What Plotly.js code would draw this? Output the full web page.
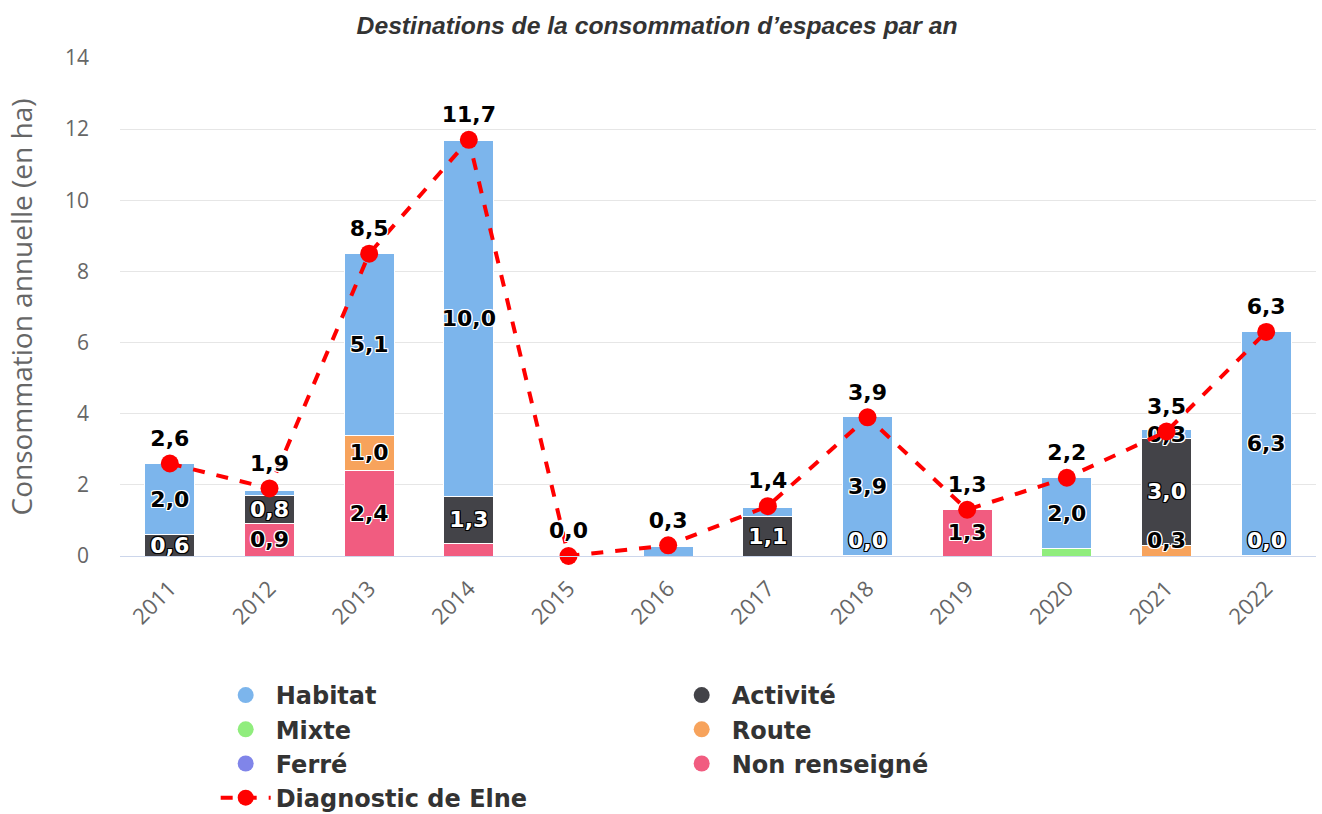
<!DOCTYPE html>
<html><head><meta charset="utf-8">
<script src="https://cdn.plot.ly/plotly-3.0.1.min.js"></script>
<style>body{margin:0;background:#fff}#chart{width:1322px;height:814px}</style>
</head><body><div id="chart"></div>
<script>
const years = ['2011','2012','2013','2014','2015','2016','2017','2018','2019','2020','2021','2022'];
const habitat      = [2.0, 0.15, 5.1, 10.0, 0, 0.27, 0.25, 3.9, 0, 2.0, 0.25, 6.3];
const activite     = [0.6, 0.8, 0, 1.33, 0, 0, 1.1, 0.01, 0, 0, 3.0, 0.01];
const mixte        = [0, 0, 0, 0, 0, 0, 0, 0, 0, 0.2, 0, 0];
const route        = [0, 0, 1.0, 0, 0, 0, 0, 0, 0, 0, 0.3, 0];
const ferre        = [0, 0, 0, 0, 0, 0, 0, 0, 0, 0, 0, 0];
const nonRenseigne = [0, 0.9, 2.4, 0.35, 0, 0, 0, 0, 1.3, 0, 0, 0];
const diagnostic   = [2.6, 1.9, 8.5, 11.7, 0.0, 0.3, 1.4, 3.9, 1.3, 2.2, 3.5, 6.3];
const hiddenLabels = {Habitat: ['2012','2016','2017'], Mixte: ['2020'], 'Non renseigné': ['2014']};

const fmt = v => v.toFixed(1).replace('.', ',');
const outline = c => `-1px -1px 0 ${c}, 1px -1px 0 ${c}, -1px 1px 0 ${c}, 1px 1px 0 ${c}, 0 1px 0 ${c}, 0 -1px 0 ${c}, 1px 0 0 ${c}, -1px 0 0 ${c}`;
const LABEL_FONT = 'DejaVu Sans';
const LABEL_SIZE = 22;

// stacking order, bottom first
const series = [
  {name: 'Non renseigné', values: nonRenseigne, color: '#f15c80', dark: false},
  {name: 'Ferré', values: ferre, color: '#8085e9', dark: false},
  {name: 'Route', values: route, color: '#f7a35c', dark: false},
  {name: 'Mixte', values: mixte, color: '#90ed7d', dark: false},
  {name: 'Activité', values: activite, color: '#434348', dark: true},
  {name: 'Habitat', values: habitat, color: '#7cb5ec', dark: false}
];

const traces = [];
const annotations = [];
const base = years.map(() => 0);
series.forEach(s => {
  const text = s.values.map((v, i) => {
    const shown = v > 0 && !((hiddenLabels[s.name] || []).includes(years[i]));
    if (!shown) return '';
    if (base[i] === 0 && v < 0.6) {
      // thin bottom segment: label kept inside the plot, resting on the x axis
      annotations.push({x: i, y: 0, xref: 'x', yref: 'y', xanchor: 'center', yanchor: 'bottom', yshift: 1,
        showarrow: false, text: fmt(v),
        font: {family: LABEL_FONT, size: LABEL_SIZE, weight: 'bold', color: s.dark ? '#ffffff' : '#000000',
               shadow: outline(s.dark ? '#000000' : '#ffffff')}});
      return '';
    }
    return fmt(v);
  });
  s.values.forEach((v, i) => { base[i] += v; });
  traces.push({
    type: 'bar', name: s.name, x: years, y: s.values, showlegend: false,
    marker: {color: s.color, line: {color: '#ffffff', width: 1}},
    text: text,
    textposition: 'inside', insidetextanchor: 'middle', constraintext: 'none', textangle: 0,
    textfont: {family: LABEL_FONT, size: LABEL_SIZE, weight: 'bold', color: s.dark ? '#ffffff' : '#000000',
               shadow: outline(s.dark ? '#000000' : '#ffffff')},
    hoverinfo: 'skip', cliponaxis: false
  });
});

const legendOrder = ['Habitat','Activité','Mixte','Route','Ferré','Non renseigné'];
legendOrder.forEach(n => {
  const s = series.find(t => t.name === n);
  traces.push({type: 'scatter', mode: 'markers', name: n, x: [null], y: [null],
    marker: {symbol: 'circle', size: 22, color: s.color}, hoverinfo: 'skip'});
});

traces.push({
  type: 'scatter', mode: 'lines+markers+text', name: 'Diagnostic de Elne', x: years, y: diagnostic,
  line: {color: '#ff0000', width: 4, dash: 'dash'},
  marker: {color: '#ff0000', size: 18},
  text: diagnostic.map(fmt), textposition: 'top center',
  textfont: {family: LABEL_FONT, size: LABEL_SIZE, weight: 'bold', color: '#000000', shadow: outline('#ffffff')},
  cliponaxis: false, hoverinfo: 'skip'
});

const layout = {
  width: 1322, height: 814,
  margin: {l: 120, r: 6, t: 58, b: 258},
  paper_bgcolor: '#ffffff', plot_bgcolor: '#ffffff',
  barmode: 'stack', bargap: 0.5,
  title: {text: 'Destinations de la consommation d’espaces par an', x: 0.497, xanchor: 'center', y: 0.969, yanchor: 'middle',
          font: {family: 'Liberation Sans', size: 24.7, weight: 'bold', style: 'italic', color: '#333333'}},
  xaxis: {type: 'category', range: [-0.5, 11.5], tickangle: -45, showgrid: false, showline: true, linecolor: '#ccd6eb', linewidth: 1,
          ticks: '', ticklabelstandoff: 10, tickfont: {family: 'Open Sans', size: 22, color: '#666666'}, fixedrange: true,
          automargin: false},
  yaxis: {range: [0, 14], dtick: 2, showgrid: true, gridcolor: '#e6e6e6', gridwidth: 1, zeroline: false,
          tickfont: {family: 'Open Sans', size: 21, color: '#666666'}, ticklabelstandoff: 30,
          title: {text: 'Consommation annuelle (en ha)', font: {family: 'Open Sans', size: 28, color: '#666666'}, standoff: 24},
          fixedrange: true, automargin: false},
  legend: {orientation: 'h', xref: 'paper', x: 0.08, xanchor: 'left', yref: 'container', y: 0.1732, yanchor: 'top',
           entrywidth: 391, itemwidth: 50,
           font: {family: 'DejaVu Sans', size: 24, weight: 'bold', color: '#333333'}, traceorder: 'normal',
           itemclick: false, itemdoubleclick: false},
  annotations: annotations,
  showlegend: true
};

Plotly.newPlot('chart', traces, layout, {displayModeBar: false, staticPlot: true});
</script></body></html>
